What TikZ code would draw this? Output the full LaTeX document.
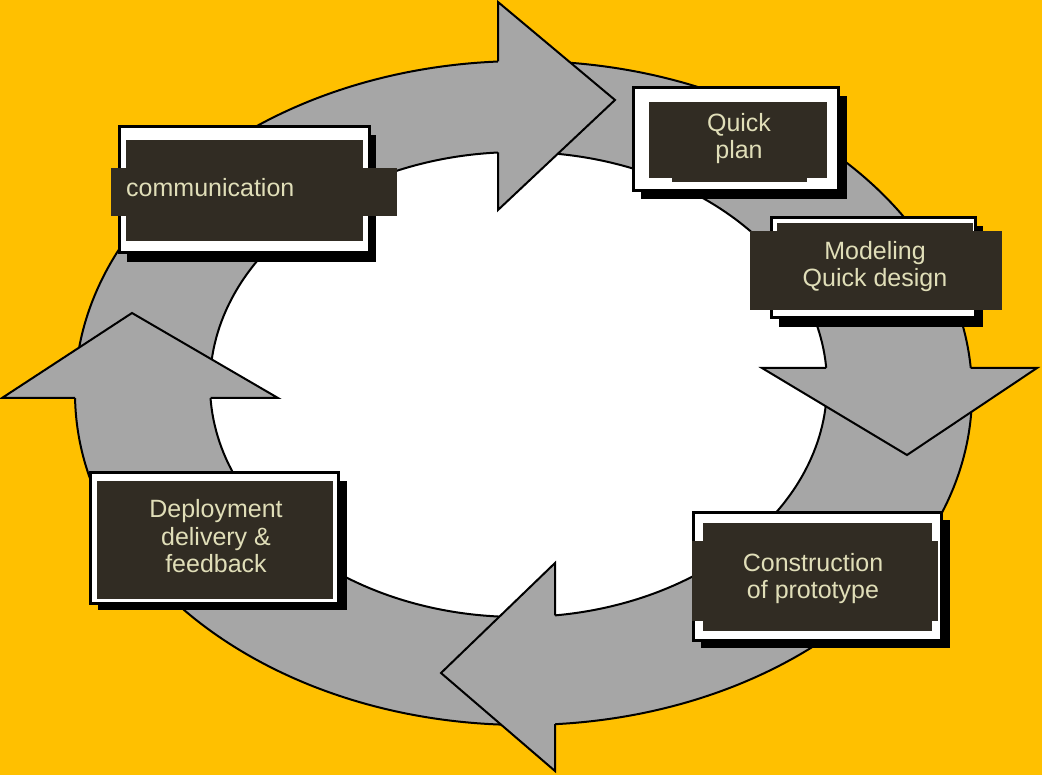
\documentclass[tikz,border=0pt]{standalone}
\usepackage{fontspec}
\newfontfamily\labfont{Liberation Sans}
\definecolor{bgorange}{RGB}{255,192,0}
\definecolor{ringgrey}{RGB}{166,166,166}
\definecolor{darkfill}{RGB}{49,44,35}
\definecolor{labeltext}{RGB}{224,222,184}
\tikzset{
  outline/.style={draw=black, line width=2pt, line join=miter},
  frame/.style={fill=white, draw=black, line width=3pt},
  shadowbox/.style={fill=black},
  darkbox/.style={fill=darkfill},
  lab/.style={text=labeltext, font=\labfont\fontsize{25}{27}\selectfont, inner sep=0pt, anchor=base}
}
\begin{document}
\begin{tikzpicture}[x=1pt,y=-1pt]
\useasboundingbox (0,0) rectangle (1042,775);
\fill[bgorange] (0,0) rectangle (1042,775);

% ring
\draw[outline, fill=ringgrey] (523.5,393) ellipse [x radius=448.5pt, y radius=332pt];
\draw[outline, fill=white] (518.5,384.5) ellipse [x radius=308.5pt, y radius=232.5pt];

% arrow heads
\fill[ringgrey] (498,2) -- (615,100) -- (498,210) -- cycle;
\draw[outline] (498,61.5) -- (498,2) -- (615,100) -- (498,210) -- (498,152.5);

\fill[ringgrey] (762,368) -- (907,455) -- (1037,368) -- cycle;
\draw[outline] (826.2,368) -- (762,368) -- (907,455) -- (1037,368) -- (970.7,368);

\fill[ringgrey] (2,398) -- (132,313) -- (278,398) -- cycle;
\draw[outline] (75,398) -- (2,398) -- (132,313) -- (278,398) -- (210.5,398);

\fill[ringgrey] (555,563) -- (441,673) -- (555,771) -- cycle;
\draw[outline] (555,615.4) -- (555,563) -- (441,673) -- (555,771) -- (555,724.2);

% communication box
\fill[shadowbox] (127,135) rectangle (376,262);
\draw[frame] (119,127) rectangle (369,253);
\fill[darkbox] (126,140) rectangle (363,241);
\fill[darkbox] (111,168) rectangle (397,216);
\node[lab, anchor=base west] (comm) at (126,197) {communication};

% quick plan box
\fill[shadowbox] (641,96) rectangle (847,199);
\draw[frame] (633,88) rectangle (838,191);
\fill[darkbox] (649,102) rectangle (827,178);
\fill[darkbox] (672,170) rectangle (807,182);
\node[lab] (qp1) at (739,132) {Quick};
\node[lab] (qp2) at (739,159) {plan};

% modeling box
\fill[shadowbox] (779,226) rectangle (983,327);
\draw[frame] (771,218) rectangle (975,318);
\fill[darkbox] (777,223) rectangle (973,310);
\fill[darkbox] (750,231) rectangle (1002,310);
\node[lab] (md1) at (875,260) {Modeling};
\node[lab] (md2) at (875,287) {Quick design};

% construction box
\fill[shadowbox] (701,520) rectangle (950,648);
\draw[frame] (693,512) rectangle (941,640);
\fill[darkbox] (703,523) rectangle (932,631);
\fill[darkbox] (692,541) rectangle (938,621);
\node[lab] (cp1) at (813,571) {Construction};
\node[lab] (cp2) at (813,598) {of prototype};

% deployment box
\fill[shadowbox] (98,481) rectangle (347,610);
\draw[frame] (90,473) rectangle (338,603);
\fill[darkbox] (97,481) rectangle (333,599);
\node[lab] (dp1) at (216,518) {Deployment};
\node[lab] (dp2) at (216,545) {delivery \&};
\node[lab] (dp3) at (216,572) {feedback};
\end{tikzpicture}
\end{document}
